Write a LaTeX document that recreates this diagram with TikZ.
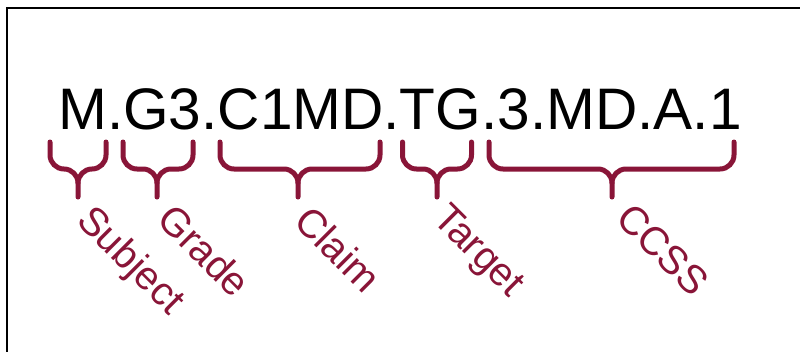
\documentclass[tikz,border=0pt]{standalone}
\usepackage{fontspec}
\setmainfont{Liberation Sans}
\usepackage{tikz}
\definecolor{codered}{RGB}{137,21,56}
\tikzset{
  codebrace/.style={draw=codered,line width=0.15cm,line cap=round,line join=round},
  codepart/.style={text=codered,inner sep=0pt,anchor=base west,rotate=-45,font=\fontsize{34}{40}\selectfont}
}

\begin{document}
\begin{tikzpicture}[x=0.03cm,y=-0.03cm]
\useasboundingbox (0,0) rectangle (800,352);
\draw[line width=0.055cm] (800,8) -- (7,8) -- (7,352);
\node[inner sep=0pt,anchor=base west,font=\fontsize{50}{60}\selectfont] (code) at (58,129.5) {M.G3.C1MD.TG.3.MD.A.1};
\draw[codebrace] (50,142) -- (50,155) .. controls (50,162.7) and (56.3,169) .. (64,169) .. controls (71.7,169) and (78,175.3) .. (78,183) -- (78,197);
\draw[codebrace] (106,142) -- (106,155) .. controls (106,162.7) and (99.7,169) .. (92,169) .. controls (84.3,169) and (78,175.3) .. (78,183);
\draw[codebrace] (123,142) -- (123,155) .. controls (123,162.7) and (129.3,169) .. (137,169) -- (143,169) .. controls (150.7,169) and (157,175.3) .. (157,183) -- (157,197);
\draw[codebrace] (193,142) -- (193,155) .. controls (193,162.7) and (186.7,169) .. (179,169) -- (171,169) .. controls (163.3,169) and (157,175.3) .. (157,183);
\draw[codebrace] (220,142) -- (220,155) .. controls (220,162.7) and (226.3,169) .. (234,169) -- (284,169) .. controls (291.7,169) and (298,175.3) .. (298,183) -- (298,197);
\draw[codebrace] (380,142) -- (380,155) .. controls (380,162.7) and (373.7,169) .. (366,169) -- (312,169) .. controls (304.3,169) and (298,175.3) .. (298,183);
\draw[codebrace] (402.5,142) -- (402.5,155) .. controls (402.5,162.7) and (408.8,169) .. (416.5,169) -- (423,169) .. controls (430.7,169) and (437,175.3) .. (437,183) -- (437,197);
\draw[codebrace] (471.5,142) -- (471.5,155) .. controls (471.5,162.7) and (465.2,169) .. (457.5,169) -- (451,169) .. controls (443.3,169) and (437,175.3) .. (437,183);
\draw[codebrace] (489,142) -- (489,155) .. controls (489,162.7) and (495.3,169) .. (503,169) -- (598,169) .. controls (605.7,169) and (612,175.3) .. (612,183) -- (612,197);
\draw[codebrace] (734,142) -- (734,155) .. controls (734,162.7) and (727.7,169) .. (720,169) -- (626,169) .. controls (618.3,169) and (612,175.3) .. (612,183);
\node[codepart] (subject) at (75,222) {Subject};
\node[codepart] (grade) at (155,221) {Grade};
\node[codepart] (claim) at (292,223) {Claim};
\node[codepart] (target) at (431,220) {Target};
\node[codepart] (ccss) at (614,220) {CCSS};
\end{tikzpicture}
\end{document}
